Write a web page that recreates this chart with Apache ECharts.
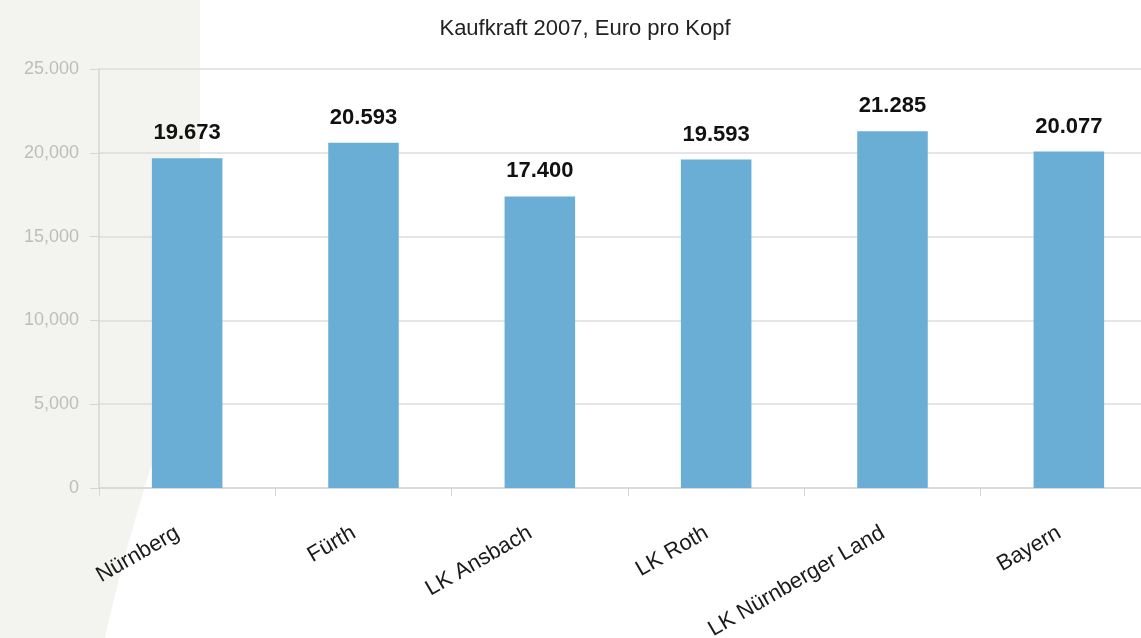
<!DOCTYPE html>
<html>
<head>
<meta charset="utf-8">
<script src="https://cdn.jsdelivr.net/npm/echarts@6/dist/echarts.min.js"></script>
<style>
  html, body { margin: 0; padding: 0; background: #fff; }
  #chart { width: 1141px; height: 638px; }
</style>
</head>
<body>
<div id="chart"></div>
<script>
// Daten
const regions = ['Nürnberg', 'Fürth', 'LK Ansbach', 'LK Roth', 'LK Nürnberger Land', 'Bayern'];
const kaufkraft = [19673, 20593, 17400, 19593, 21285, 20077];
const yTickLabels = ['0', '5,000', '10,000', '15,000', '20,000', '25.000'];

const font = '"Liberation Sans Narrow", "Liberation Sans", Arial, sans-serif';

// Umriss der hellen Fläche links (nur Dekoration)
function quad(p0, p1, p2, n) {
  const pts = [];
  for (let i = 1; i <= n; i++) {
    const t = i / n, u = 1 - t;
    pts.push([u * u * p0[0] + 2 * u * t * p1[0] + t * t * p2[0],
              u * u * p0[1] + 2 * u * t * p1[1] + t * t * p2[1]]);
  }
  return pts;
}
const bgShape = [[0, 0], [200, 0], [200, 250]]
  .concat(quad([200, 250], [192, 380], [150, 470], 12))
  .concat(quad([150, 470], [122, 560], [105, 638], 10))
  .concat([[0, 638]]);

const chart = echarts.init(document.getElementById('chart'), null, { renderer: 'canvas' });

const option = {
  backgroundColor: '#ffffff',
  animation: false,
  graphic: [{
    type: 'polygon',
    z: -10,
    silent: true,
    shape: { points: bgShape },
    style: { fill: '#f3f3ef' }
  }],
  title: {
    text: 'Kaufkraft 2007, Euro pro Kopf',
    left: 580,
    top: 13,
    textAlign: 'center',
    textStyle: { fontFamily: font, fontSize: 22, fontWeight: 'normal', color: '#222' }
  },
  grid: { left: 99, top: 69, width: 1058, height: 419, containLabel: false, outerBoundsMode: 'none' },
  xAxis: {
    type: 'category',
    data: regions,
    axisLine: { lineStyle: { color: '#d6d6d6', width: 1.5 } },
    axisTick: { show: true, length: 8, lineStyle: { color: '#d6d6d6' } },
    axisLabel: {
      rotate: 30,
      margin: 38,
      interval: 0,
      padding: [0, 11, 0, 0], // Beschriftung etwas links vom Balken
      fontFamily: font,
      fontSize: 22,
      color: '#1a1a1a'
    }
  },
  yAxis: {
    type: 'value',
    min: 0,
    max: 25000,
    interval: 5000,
    axisLine: { show: true, lineStyle: { color: '#d6d6d6', width: 1.5 } },
    axisTick: { show: true, length: 9, lineStyle: { color: '#d6d6d6' } },
    splitLine: { lineStyle: { color: '#dcdcdc', width: 1.5 } },
    axisLabel: {
      margin: 20,
      fontFamily: font,
      fontSize: 18,
      color: '#bdbdbd',
      formatter: (v) => yTickLabels[Math.round(v / 5000)]
    }
  },
  series: [{
    type: 'bar',
    data: kaufkraft,
    barWidth: '40%',
    itemStyle: { color: '#6aaed6' },
    label: {
      show: true,
      position: 'top',
      distance: 14,
      fontFamily: font,
      fontSize: 22,
      fontWeight: 'bold',
      color: '#111',
      formatter: (p) => p.value.toLocaleString('de-DE')
    }
  }]
};

chart.setOption(option);
</script>
</body>
</html>
